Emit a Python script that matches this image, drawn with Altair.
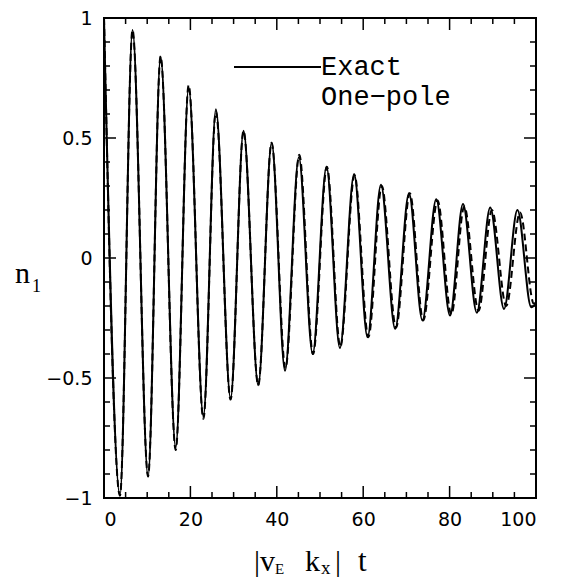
import altair as alt
import pandas as pd

# Exact solution: extrema (t, n1)
exact_t = [0, 3.7, 6.6, 10.2, 13.1, 16.6, 19.6, 23.0, 25.9, 29.3, 32.3, 35.7, 38.8, 41.9,
           45.1, 48.3, 51.5, 54.6, 57.9, 61.0, 64.1, 67.4, 70.6, 73.7, 76.9, 80.1, 83.1,
           86.3, 89.4, 92.6, 95.7, 98.9, 100]
exact_n = [1.0, -0.99, 0.95, -0.91, 0.84, -0.79, 0.71, -0.66, 0.62, -0.585, 0.53, -0.53,
           0.48, -0.47, 0.42, -0.40, 0.38, -0.375, 0.35, -0.33, 0.305, -0.295, 0.27, -0.26,
           0.245, -0.24, 0.225, -0.228, 0.21, -0.212, 0.20, -0.205, -0.19]

# One-pole approximation (dashed)
onepole_t = [0, 3.7, 6.6, 10.2, 13.1, 16.6, 19.6, 23.0, 25.9, 29.3, 32.3, 35.7, 38.8, 42.0,
             45.2, 48.4, 51.6, 54.7, 58.0, 61.2, 64.3, 67.6, 70.8, 73.9, 77.2, 80.4, 83.4,
             86.7, 89.8, 93.1, 96.3, 99.5, 100]
onepole_n = [1.0, -0.99, 0.95, -0.91, 0.84, -0.80, 0.72, -0.67, 0.61, -0.59, 0.53, -0.53,
             0.48, -0.46, 0.43, -0.40, 0.38, -0.37, 0.345, -0.33, 0.30, -0.29, 0.27, -0.26,
             0.24, -0.235, 0.215, -0.22, 0.20, -0.20, 0.19, -0.19, -0.185]

x_labels = [0, 20, 40, 60, 80, 100]
x_minor = [5, 10, 15, 25, 30, 35, 45, 50, 55, 65, 70, 75, 85, 90, 95]
x_major = [20, 40, 60, 80]
y_labels = [-1, -0.5, 0, 0.5, 1]
y_major = [-0.5, 0, 0.5]
y_minor = [-0.9, -0.8, -0.7, -0.6, -0.4, -0.3, -0.2, -0.1,
           0.1, 0.2, 0.3, 0.4, 0.6, 0.7, 0.8, 0.9]

W, H = 432, 480
xs = alt.Scale(domain=[0, 100], nice=False, zero=False)
ys = alt.Scale(domain=[-1, 1], nice=False, zero=False)

label_font = "DejaVu Sans"
serif = "Liberation Serif"
mono = "Liberation Mono"

x_axis = alt.Axis(
    values=x_labels, ticks=False, domain=False, grid=False, title=None,
    labelFont=label_font, labelFontSize=19, labelPadding=12, labelColor="black")
y_axis = alt.Axis(
    values=y_labels, ticks=False, domain=False, grid=False, title=None,
    labelFont=label_font, labelFontSize=19, labelPadding=12, labelColor="black",
    labelExpr="datum.value < 0 ? '\u2212' + format(-datum.value, '~g') : format(datum.value, '~g')")

df_exact = pd.DataFrame({"t": exact_t, "n": exact_n})
df_op = pd.DataFrame({"t": onepole_t, "n": onepole_n})

exact = alt.Chart(df_exact).mark_line(
    color="black", strokeWidth=2, interpolate="monotone"
).encode(
    x=alt.X("t:Q", scale=xs, axis=x_axis),
    y=alt.Y("n:Q", scale=ys, axis=y_axis),
)

onepole = alt.Chart(df_op).mark_line(
    color="black", strokeWidth=2, strokeDash=[7, 4], interpolate="monotone"
).encode(
    x=alt.X("t:Q", scale=xs, axis=x_axis),
    y=alt.Y("n:Q", scale=ys, axis=y_axis),
)


def xticks(vals, size):
    d = pd.DataFrame({"t": vals})
    bottom = alt.Chart(d).mark_rule(color="black", strokeWidth=1.5).encode(
        x=alt.X("t:Q", scale=xs, axis=x_axis), y=alt.value(H), y2=alt.value(H - size))
    top = alt.Chart(d).mark_rule(color="black", strokeWidth=1.5).encode(
        x=alt.X("t:Q", scale=xs, axis=x_axis), y=alt.value(0), y2=alt.value(size))
    return [bottom, top]


def yticks(vals, size):
    d = pd.DataFrame({"n": vals})
    left = alt.Chart(d).mark_rule(color="black", strokeWidth=1.5).encode(
        y=alt.Y("n:Q", scale=ys, axis=y_axis), x=alt.value(0), x2=alt.value(size))
    right = alt.Chart(d).mark_rule(color="black", strokeWidth=1.5).encode(
        y=alt.Y("n:Q", scale=ys, axis=y_axis), x=alt.value(W), x2=alt.value(W - size))
    return [left, right]


ticks = xticks(x_major, 12) + xticks(x_minor, 6) + yticks(y_major, 12) + yticks(y_minor, 6)

one = pd.DataFrame({"a": [0]})


def txt(s, x, y, size, font, align="left", baseline="alphabetic"):
    return alt.Chart(one).mark_text(
        text=s, font=font, fontSize=size, align=align, baseline=baseline, color="black"
    ).encode(x=alt.value(x), y=alt.value(y))


legend_line = alt.Chart(one).mark_rule(color="black", strokeWidth=2).encode(
    x=alt.value(130), x2=alt.value(217), y=alt.value(49))

texts = [
    txt("Exact", 217, 57, 27, mono),
    txt("One\u2212pole", 217, 87, 27, mono),
    # y-axis title n_1
    txt("n", -89, 265, 30, serif),
    txt("1", -72, 274, 18, serif),
    # x-axis title |v_E k_x| t
    txt("|v", 150, 553, 30, serif),
    txt("E", 171, 556, 15, serif),
    txt("k", 201, 553, 30, serif),
    txt("x", 217, 556, 19, serif),
    txt("|", 231, 553, 30, serif),
    txt("t", 254, 553, 31, serif),
]

chart = alt.layer(exact, onepole, *ticks, legend_line, *texts).properties(
    width=W, height=H,
    autosize=alt.AutoSizeParams(type="none"),
    padding={"left": 104, "top": 18, "right": 32, "bottom": 80},
    background="white",
).configure_view(stroke="black", strokeWidth=2)

chart.save("out.html", embed_options={"renderer": "svg", "actions": False})
